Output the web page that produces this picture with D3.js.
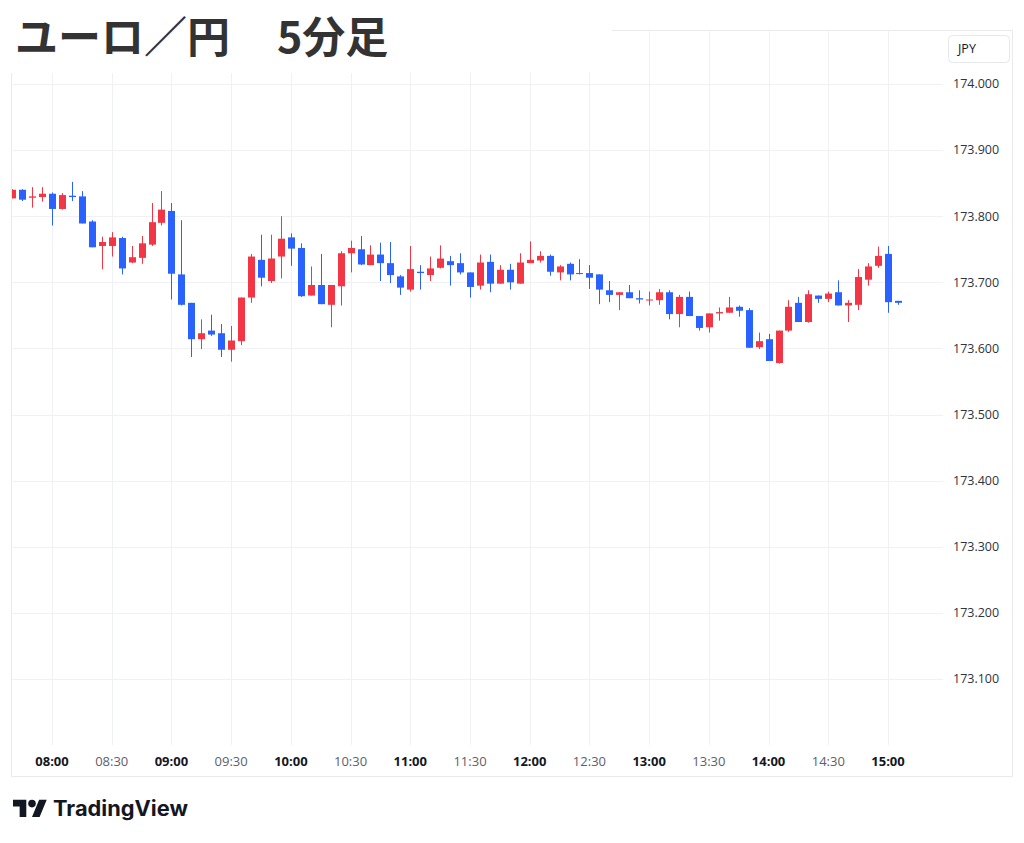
<!DOCTYPE html>
<html>
<head>
<meta charset="utf-8">
<script src="https://cdn.jsdelivr.net/npm/d3@7"></script>
<style>
  body { margin: 0; background: #fff; }
  svg { display: block; }
</style>
</head>
<body>
<div id="chart"></div>
<script>
// EUR/JPY 5-minute candles
const times = [
  "07:40","07:45","07:50","07:55","08:00","08:05","08:10","08:15","08:20","08:25",
  "08:30","08:35","08:40","08:45","08:50","08:55","09:00","09:05","09:10","09:15",
  "09:20","09:25","09:30","09:35","09:40","09:45","09:50","09:55","10:00","10:05",
  "10:10","10:15","10:20","10:25","10:30","10:35","10:40","10:45","10:50","10:55",
  "11:00","11:05","11:10","11:15","11:20","11:25","11:30","11:35","11:40","11:45",
  "11:50","11:55","12:00","12:05","12:10","12:15","12:20","12:25","12:30","12:35",
  "12:40","12:45","12:50","12:55","13:00","13:05","13:10","13:15","13:20","13:25",
  "13:30","13:35","13:40","13:45","13:50","13:55","14:00","14:05","14:10","14:15",
  "14:20","14:25","14:30","14:35","14:40","14:45","14:50","14:55","15:00","15:05"
];
const opens = [
  173.827,173.840,173.828,173.829,173.834,173.811,173.831,173.830,173.792,173.755,
  173.755,173.767,173.730,173.737,173.757,173.790,173.808,173.712,173.669,173.614,
  173.627,173.623,173.598,173.611,173.677,173.734,173.702,173.739,173.768,173.752,
  173.680,173.696,173.666,173.694,173.744,173.750,173.726,173.742,173.729,173.709,
  173.689,173.716,173.711,173.722,173.732,173.729,173.715,173.695,173.731,173.698,
  173.719,173.698,173.729,173.733,173.740,173.715,173.728,173.714,173.714,173.712,
  173.688,173.681,173.685,173.676,173.673,173.673,173.685,173.652,173.678,173.649,
  173.632,173.653,173.654,173.663,173.658,173.602,173.614,173.578,173.627,173.669,
  173.640,173.680,173.675,173.685,173.665,173.666,173.704,173.725,173.743,173.672
];
const highs = [
  173.841,173.841,173.844,173.844,173.836,173.835,173.852,173.838,173.794,173.769,
  173.776,173.769,173.755,173.770,173.820,173.838,173.820,173.794,173.669,173.644,
  173.651,173.637,173.634,173.677,173.743,173.772,173.772,173.800,173.774,173.759,
  173.724,173.743,173.696,173.747,173.763,173.770,173.756,173.760,173.761,173.711,
  173.755,173.726,173.739,173.756,173.740,173.744,173.715,173.742,173.742,173.726,
  173.728,173.744,173.762,173.747,173.742,173.726,173.730,173.735,173.726,173.712,
  173.702,173.685,173.696,173.688,173.686,173.690,173.688,173.681,173.686,173.649,
  173.653,173.662,173.678,173.665,173.661,173.624,173.622,173.627,173.673,173.678,
  173.688,173.680,173.686,173.703,173.673,173.720,173.729,173.754,173.755,173.672
];
const lows = [
  173.827,173.823,173.813,173.822,173.786,173.810,173.823,173.789,173.753,173.720,
  173.739,173.712,173.729,173.728,173.755,173.786,173.674,173.665,173.587,173.599,
  173.619,173.587,173.580,173.605,173.669,173.694,173.699,173.706,173.725,173.678,
  173.680,173.667,173.632,173.665,173.715,173.726,173.726,173.702,173.699,173.681,
  173.686,173.689,173.702,173.721,173.695,173.712,173.677,173.689,173.685,173.698,
  173.689,173.698,173.729,173.730,173.710,173.703,173.703,173.712,173.690,173.667,
  173.670,173.658,173.676,173.668,173.665,173.666,173.644,173.632,173.649,173.627,
  173.624,173.642,173.654,173.648,173.601,173.599,173.581,173.577,173.625,173.640,
  173.639,173.669,173.670,173.665,173.640,173.658,173.695,173.722,173.654,173.666
];
const closes = [
  173.840,173.825,173.830,173.834,173.811,173.832,173.829,173.789,173.753,173.761,
  173.768,173.721,173.738,173.759,173.791,173.810,173.713,173.666,173.614,173.623,
  173.621,173.598,173.612,173.677,173.739,173.707,173.736,173.766,173.751,173.679,
  173.696,173.667,173.696,173.744,173.752,173.727,173.742,173.729,173.711,173.692,
  173.720,173.714,173.721,173.736,173.726,173.715,173.693,173.730,173.698,173.719,
  173.700,173.730,173.734,173.740,173.716,173.724,173.712,173.713,173.707,173.689,
  173.681,173.685,173.676,173.674,173.674,173.685,173.652,173.678,173.649,173.631,
  173.653,173.655,173.662,173.657,173.601,173.611,173.581,173.627,173.663,173.640,
  173.682,173.675,173.683,173.665,173.669,173.708,173.724,173.740,173.670,173.669
];

const priceTicks = [173.1, 173.2, 173.3, 173.4, 173.5, 173.6, 173.7, 173.8, 173.9, 174.0];
const timeTicks = ["08:00","08:30","09:00","09:30","10:00","10:30","11:00","11:30",
                   "12:00","12:30","13:00","13:30","14:00","14:30","15:00"];

const titlePair = "ユーロ／円";
const titleFrame = "5分足";
const currencyText = "JPY";

const upColor = "#f23645";
const downColor = "#2962ff";
const gridColor = "#f0f1f4";
const borderColor = "#e9eaee";

const width = 1024, height = 843;
const pane = { left: 11, right: 943, top: 30, bottom: 745 };
const frame = { left: 11, right: 1012, top: 30, bottom: 776 };

const parseTime = d3.timeParse("%H:%M");

const candles = times.map((t, i) => ({
    time: parseTime(t),
    open: opens[i],
    high: highs[i],
    low: lows[i],
    close: closes[i]
}));

const x = d3.scaleTime()
    .domain([parseTime("08:00"), parseTime("15:00")])
    .range([52, 888]);

const y = d3.scaleLinear()
    .domain([173.1, 174.0])
    .range([679, 84]);

const svg = d3.select("#chart").append("svg")
    .attr("width", width)
    .attr("height", height);

svg.append("rect")
    .attr("width", width)
    .attr("height", height)
    .attr("fill", "#fff");

// outer frame
svg.append("rect")
    .attr("x", frame.left + 0.5)
    .attr("y", frame.top + 0.5)
    .attr("width", frame.right - frame.left)
    .attr("height", frame.bottom - frame.top)
    .attr("fill", "none")
    .attr("stroke", borderColor);

// grid
svg.append("g")
    .selectAll("line")
    .data(priceTicks)
    .join("line")
    .attr("x1", pane.left)
    .attr("x2", pane.right)
    .attr("y1", d => Math.round(y(d)) + 0.5)
    .attr("y2", d => Math.round(y(d)) + 0.5)
    .attr("stroke", gridColor);

svg.append("g")
    .selectAll("line")
    .data(timeTicks)
    .join("line")
    .attr("x1", d => Math.round(x(parseTime(d))) + 0.5)
    .attr("x2", d => Math.round(x(parseTime(d))) + 0.5)
    .attr("y1", pane.top)
    .attr("y2", pane.bottom)
    .attr("stroke", gridColor);

// candles, clipped to the plot pane
svg.append("clipPath")
    .attr("id", "pane-clip")
    .append("rect")
    .attr("x", pane.left + 1)
    .attr("y", pane.top)
    .attr("width", pane.right - pane.left - 1)
    .attr("height", pane.bottom - pane.top);

const bodyWidth = 7;
const candleG = svg.append("g").attr("clip-path", "url(#pane-clip)");

const bars = candleG.selectAll("g.candle")
    .data(candles)
    .join("g")
    .attr("class", "candle")
    .attr("fill", d => d.close >= d.open ? upColor : downColor)
    .attr("stroke", d => d.close >= d.open ? upColor : downColor);

bars.append("line")
    .attr("x1", d => Math.round(x(d.time)) + 0.5)
    .attr("x2", d => Math.round(x(d.time)) + 0.5)
    .attr("y1", d => y(d.high))
    .attr("y2", d => y(d.low))
    .attr("stroke-width", 1);

bars.append("rect")
    .attr("x", d => Math.round(x(d.time)) - 3)
    .attr("y", d => y(Math.max(d.open, d.close)))
    .attr("width", bodyWidth)
    .attr("height", d => Math.max(1, Math.abs(y(d.open) - y(d.close))))
    .attr("stroke", "none");

// price axis labels
svg.append("g")
    .selectAll("text")
    .data(priceTicks)
    .join("text")
    .attr("x", 953)
    .attr("y", d => y(d))
    .attr("dy", "0.35em")
    .attr("font-family", "'Open Sans', 'Noto Sans', sans-serif")
    .attr("font-size", "12.5px")
    .attr("fill", "#2f3240")
    .text(d => d.toFixed(3));

// time axis labels
svg.append("g")
    .selectAll("text")
    .data(timeTicks)
    .join("text")
    .attr("x", d => x(parseTime(d)))
    .attr("y", 761)
    .attr("dy", "0.35em")
    .attr("text-anchor", "middle")
    .attr("font-family", "'Open Sans', 'Noto Sans', sans-serif")
    .attr("font-size", "13px")
    .attr("font-weight", d => d.endsWith(":00") ? "bold" : "normal")
    .attr("fill", d => d.endsWith(":00") ? "#131722" : "#5d606b")
    .text(d => d);

// currency box
svg.append("rect")
    .attr("x", 948.5)
    .attr("y", 35.5)
    .attr("width", 61)
    .attr("height", 27)
    .attr("rx", 4)
    .attr("fill", "#fff")
    .attr("stroke", "#e6e8ee");

svg.append("text")
    .attr("x", 958)
    .attr("y", 49)
    .attr("dy", "0.35em")
    .attr("font-family", "'Open Sans', 'Noto Sans', sans-serif")
    .attr("font-size", "12.5px")
    .attr("fill", "#131722")
    .text(currencyText);

// title block covers the top-left of the frame
svg.append("rect")
    .attr("x", 0)
    .attr("y", 0)
    .attr("width", 612)
    .attr("height", 73)
    .attr("fill", "#fff");

const title = svg.append("text")
    .attr("y", 53)
    .attr("font-family", "'Noto Sans CJK JP', sans-serif")
    .attr("font-size", "43px")
    .attr("font-weight", "bold")
    .attr("fill", "#333");
title.append("tspan").attr("x", 15).text(titlePair);
title.append("tspan").attr("x", 277).text(titleFrame);

// TradingView logo
const logo = svg.append("g")
    .attr("transform", "translate(13, 796) scale(0.95)")
    .attr("fill", "#131722");
logo.append("path")
    .attr("d", "M14 22H7V11H0V4h14v18zM28 22h-8l7.5-18h8L28 22z");
logo.append("circle")
    .attr("cx", 20)
    .attr("cy", 8)
    .attr("r", 4);

svg.append("text")
    .attr("x", 53)
    .attr("y", 816)
    .attr("font-family", "Inter, 'Noto Sans', sans-serif")
    .attr("font-size", "21px")
    .attr("font-weight", "bold")
    .attr("textLength", 135)
    .attr("lengthAdjust", "spacingAndGlyphs")
    .attr("fill", "#131722")
    .text("TradingView");
</script>
</body>
</html>
